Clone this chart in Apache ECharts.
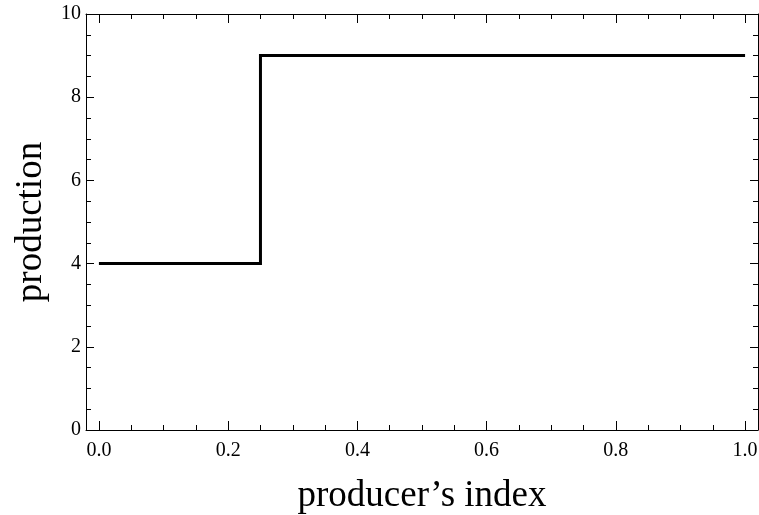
<!DOCTYPE html>
<html>
<head>
<meta charset="utf-8">
<script src="https://cdn.jsdelivr.net/npm/echarts@6/dist/echarts.min.js"></script>
<style>html,body{margin:0;padding:0;background:#fff}#c{width:759px;height:515px}</style>
</head>
<body>
<div id="c"></div>
<script>
// Data
const stepX = [0, 0.25, 0.25, 1];
const stepY = [4, 4, 9, 9];
const xMajorTicks = [0, 0.2, 0.4, 0.6, 0.8, 1.0];
const xMinorTicks = [0.05, 0.1, 0.15, 0.25, 0.3, 0.35, 0.45, 0.5, 0.55, 0.65, 0.7, 0.75, 0.85, 0.9, 0.95];
const yTicks = [0, 2, 4, 6, 8, 10];
const xTitle = 'producer\u2019s index';
const yTitle = 'production';

const FONT = '"Liberation Serif", "DejaVu Serif", serif';
const xMin = -0.02, xMax = 1.02;

function xAx(pos, vals, len, withLabel, withLine, name) {
  return {
    type: 'value', position: pos, min: xMin, max: xMax,
    axisLine: { show: withLine, onZero: false, lineStyle: { color: '#000', width: 1 } },
    axisTick: { show: true, inside: true, length: len, customValues: vals, lineStyle: { color: '#000', width: 1 } },
    axisLabel: withLabel ? { show: true, customValues: vals, margin: 11, color: '#000', fontFamily: FONT, fontSize: 20,
      formatter: v => Number(v).toFixed(1) } : { show: false },
    splitLine: { show: false },
    name: name || '', nameLocation: 'middle', nameGap: 48,
    nameTextStyle: { color: '#000', fontFamily: FONT, fontSize: 37 }
  };
}
function yAx(pos, withLabel, name) {
  return {
    type: 'value', position: pos, min: 0, max: 10, interval: 2,
    axisLine: { show: true, onZero: false, lineStyle: { color: '#000', width: 1 } },
    axisTick: { show: true, inside: true, length: 8, lineStyle: { color: '#000', width: 1 } },
    minorTick: { show: true, splitNumber: 4, length: 5, lineStyle: { color: '#000', width: 1 } },
    axisLabel: withLabel ? { show: true, margin: 5, color: '#000', fontFamily: FONT, fontSize: 20,
      customValues: yTicks } : { show: false },
    splitLine: { show: false }, minorSplitLine: { show: false },
    name: name || '', nameLocation: 'middle', nameGap: 32,
    nameTextStyle: { color: '#000', fontFamily: FONT, fontSize: 37 }
  };
}

const chart = echarts.init(document.getElementById('c'), null, { renderer: 'canvas' });
chart.setOption({
  animation: false,
  backgroundColor: '#fff',
  grid: { left: 86, top: 14, right: 1, bottom: 85, containLabel: false, outerBoundsMode: 'none' },
  xAxis: [
    xAx('bottom', xMajorTicks, 9, true, true, xTitle),
    xAx('bottom', xMinorTicks, 5, false, false),
    xAx('top', xMajorTicks, 9, false, true),
    xAx('top', xMinorTicks, 5, false, false)
  ],
  yAxis: [
    yAx('left', true, yTitle),
    yAx('right', false)
  ],
  series: [{
    type: 'line', xAxisIndex: 0, yAxisIndex: 0,
    data: stepX.map((x, i) => [x, stepY[i]]),
    showSymbol: false, symbol: 'none',
    lineStyle: { color: '#000', width: 3, join: 'miter' }
  }]
});
</script>
</body>
</html>
